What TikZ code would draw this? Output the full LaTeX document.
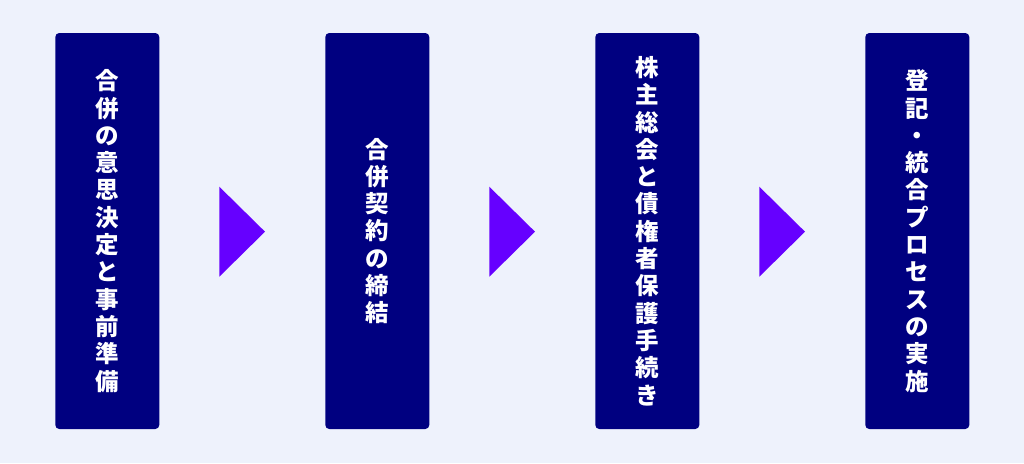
\documentclass[tikz,border=0pt]{standalone}
\usepackage{fontspec}
\newfontfamily\cjk{Noto Sans CJK JP}
\definecolor{bgc}{HTML}{EEF2FC}
\definecolor{boxc}{HTML}{000080}
\definecolor{arrc}{HTML}{6600FF}
\tikzset{
  stepbox/.style={fill=boxc, rounded corners=4pt, minimum width=104pt, minimum height=396pt,
    inner sep=0pt, text=white, align=center,
    font=\cjk\bfseries\fontsize{23.5}{27.3}\selectfont},
  tri/.style={fill=arrc}
}
\begin{document}
\begin{tikzpicture}[x=1pt,y=-1pt]
\fill[bgc] (0,0) rectangle (1024,463);
\useasboundingbox (0,0) rectangle (1024,463);
\node[stepbox] (b1) at (107.3,231) {合\\併\\の\\意\\思\\決\\定\\と\\事\\前\\準\\備};
\node[stepbox] (b2) at (377.3,231) {合\\併\\契\\約\\の\\締\\結};
\node[stepbox] (b3) at (647.3,231) {株\\主\\総\\会\\と\\債\\権\\者\\保\\護\\手\\続\\き};
\node[stepbox] (b4) at (917.3,231) {登\\記\\・\\統\\合\\プ\\ロ\\セ\\ス\\の\\実\\施};
\foreach \x in {219.3,489.3,759.3}{
  \fill[tri] (\x,186.7) -- (\x,276.7) -- (\x+45.7,231.7) -- cycle;
}
\end{tikzpicture}
\end{document}
